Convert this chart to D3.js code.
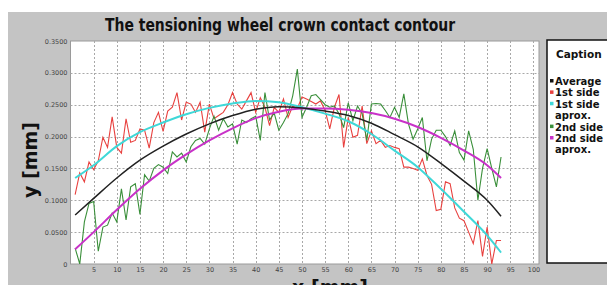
<!DOCTYPE html>
<html>
<head>
<meta charset="utf-8">
<script src="https://cdn.jsdelivr.net/npm/d3@7"></script>
<style>
  html, body { margin: 0; padding: 0; background: #fff; }
  svg { display: block; font-family: "DejaVu Sans", Verdana, sans-serif; }
</style>
</head>
<body>
<div id="chart"></div>
<script>
// measured sample positions, x [mm]
const xMm = d3.range(1, 94);

const firstSide = [
  0.109, 0.143, 0.129, 0.160, 0.148, 0.162, 0.199, 0.183, 0.231, 0.183,
  0.174, 0.228, 0.191, 0.194, 0.212, 0.210, 0.182, 0.222, 0.238, 0.208,
  0.240, 0.246, 0.269, 0.226, 0.254, 0.251, 0.238, 0.254, 0.207, 0.251,
  0.228, 0.233, 0.238, 0.250, 0.269, 0.251, 0.243, 0.256, 0.269, 0.238,
  0.261, 0.246, 0.217, 0.246, 0.238, 0.259, 0.230, 0.248, 0.244, 0.262,
  0.259, 0.255, 0.251, 0.256, 0.241, 0.212, 0.246, 0.266, 0.183, 0.230,
  0.199, 0.202, 0.248, 0.189, 0.209, 0.189, 0.194, 0.183, 0.186, 0.183,
  0.181, 0.152, 0.152, 0.150, 0.147, 0.165, 0.139, 0.125, 0.084, 0.086,
  0.129, 0.126, 0.088, 0.072, 0.068, 0.050, 0.032, 0.068, 0.012, 0.058,
  0.000, 0.037, 0.037
];

const secondSide = [
  0.025, 0.000, 0.066, 0.095, 0.098, 0.020, 0.058, 0.061, 0.080, 0.066,
  0.118, 0.069, 0.121, 0.126, 0.078, 0.140, 0.130, 0.150, 0.156, 0.152,
  0.142, 0.176, 0.168, 0.174, 0.160, 0.184, 0.194, 0.197, 0.188, 0.212,
  0.232, 0.210, 0.228, 0.215, 0.220, 0.188, 0.226, 0.222, 0.228, 0.232,
  0.194, 0.269, 0.226, 0.237, 0.210, 0.222, 0.236, 0.264, 0.306, 0.230,
  0.246, 0.264, 0.266, 0.258, 0.250, 0.246, 0.248, 0.236, 0.214, 0.253,
  0.225, 0.248, 0.236, 0.194, 0.251, 0.252, 0.251, 0.241, 0.230, 0.246,
  0.230, 0.267, 0.220, 0.196, 0.212, 0.230, 0.162, 0.196, 0.210, 0.210,
  0.200, 0.186, 0.209, 0.175, 0.163, 0.209, 0.180, 0.100, 0.150, 0.181,
  0.150, 0.121, 0.168
];

// fitted curves, read every 5 mm
const fitX = [1, 5, 10, 15, 20, 25, 30, 35, 40, 45, 50, 55, 60, 65, 70, 75, 80, 85, 90, 93];
const firstApprox = [0.135, 0.155, 0.185, 0.207, 0.222, 0.235, 0.245, 0.252, 0.256, 0.254,
                     0.246, 0.236, 0.224, 0.204, 0.178, 0.152, 0.118, 0.082, 0.045, 0.018];
const secondApprox = [0.023, 0.050, 0.085, 0.118, 0.147, 0.172, 0.194, 0.213, 0.229, 0.239,
                      0.244, 0.244, 0.242, 0.237, 0.228, 0.215, 0.198, 0.178, 0.155, 0.135];
const average = [0.077, 0.103, 0.135, 0.163, 0.185, 0.204, 0.220, 0.233, 0.243, 0.247,
                 0.245, 0.240, 0.233, 0.221, 0.203, 0.184, 0.158, 0.130, 0.100, 0.075];

const xTicks = d3.range(5, 101, 5);
const yTicks = [0, 0.05, 0.10, 0.15, 0.20, 0.25, 0.30, 0.35];

const legendItems = [
  { lines: ['Average'], color: '#111111' },
  { lines: ['1st side'], color: '#e8413f' },
  { lines: ['1st side', 'aprox.'], color: '#3fd8d8' },
  { lines: ['2nd side'], color: '#3a8f3a' },
  { lines: ['2nd side', 'aprox.'], color: '#c832c8' }
];

const width = 607, height = 285;
const plot = { left: 70.5, right: 539, top: 41, bottom: 264 };

const svg = d3.select('#chart').append('svg')
  .attr('width', width)
  .attr('height', height);

// grey panel
svg.append('rect')
  .attr('x', 8).attr('y', 12)
  .attr('width', width - 8).attr('height', height - 12)
  .attr('fill', '#c4c4c4');

const x = d3.scaleLinear().domain([0, 101.2]).range([plot.left, plot.right]);
const y = d3.scaleLinear().domain([0, 0.35]).range([plot.bottom, plot.top]);

// plot area
svg.append('rect')
  .attr('x', plot.left).attr('y', plot.top)
  .attr('width', plot.right - plot.left).attr('height', plot.bottom - plot.top)
  .attr('fill', '#fff')
  .attr('stroke', '#9a9a9a')
  .attr('stroke-width', 1);

// grid
const grid = svg.append('g')
  .attr('stroke', '#a8a8a8')
  .attr('stroke-width', 1)
  .attr('stroke-dasharray', '2,2');

grid.selectAll('line.v')
  .data(xTicks)
  .join('line')
  .attr('class', 'v')
  .attr('x1', d => Math.round(x(d)) + 0.5).attr('x2', d => Math.round(x(d)) + 0.5)
  .attr('y1', plot.top).attr('y2', plot.bottom);

grid.selectAll('line.h')
  .data(yTicks.filter(d => d > 0 && d < 0.35))
  .join('line')
  .attr('class', 'h')
  .attr('x1', plot.left).attr('x2', plot.right)
  .attr('y1', d => Math.round(y(d)) + 0.5).attr('y2', d => Math.round(y(d)) + 0.5);

// axes (labels only, as in the source chart)
const xAxis = svg.append('g')
  .attr('transform', `translate(0,${plot.bottom + 2})`)
  .call(d3.axisBottom(x).tickValues(xTicks).tickSize(0).tickPadding(1));
const yAxis = svg.append('g')
  .attr('transform', `translate(${plot.left - 3},0)`)
  .call(d3.axisLeft(y).tickValues(yTicks).tickSize(0).tickPadding(0)
    .tickFormat(d => d === 0 ? '0' : d3.format('.4f')(d)));

[xAxis, yAxis].forEach(a => {
  a.select('.domain').remove();
  a.selectAll('text')
    .attr('font-family', '"DejaVu Sans", Verdana, sans-serif')
    .attr('font-size', 6.5)
    .attr('fill', '#444');
});

// series
const rawLine = d3.line()
  .x((d, i) => x(xMm[i]))
  .y(d => y(d));

const fitLine = d3.line()
  .x((d, i) => x(fitX[i]))
  .y(d => y(d))
  .curve(d3.curveMonotoneX);

svg.append('clipPath').attr('id', 'clip')
  .append('rect')
  .attr('x', plot.left).attr('y', plot.top - 2)
  .attr('width', plot.right - plot.left).attr('height', plot.bottom - plot.top + 2);

const series = svg.append('g').attr('clip-path', 'url(#clip)');

series.append('path')
  .datum(firstSide)
  .attr('d', rawLine)
  .attr('fill', 'none')
  .attr('stroke', '#e8413f')
  .attr('stroke-width', 1.1);

series.append('path')
  .datum(secondSide)
  .attr('d', rawLine)
  .attr('fill', 'none')
  .attr('stroke', '#3a8f3a')
  .attr('stroke-width', 1.1);

series.append('path')
  .datum(firstApprox)
  .attr('d', fitLine)
  .attr('fill', 'none')
  .attr('stroke', '#3fd8d8')
  .attr('stroke-width', 2);

series.append('path')
  .datum(secondApprox)
  .attr('d', fitLine)
  .attr('fill', 'none')
  .attr('stroke', '#c832c8')
  .attr('stroke-width', 2);

series.append('path')
  .datum(average)
  .attr('d', fitLine)
  .attr('fill', 'none')
  .attr('stroke', '#222')
  .attr('stroke-width', 1.5);

// title and axis names
svg.append('text')
  .attr('x', 280).attr('y', 31)
  .attr('text-anchor', 'middle')
  .attr('font-size', 17)
  .attr('font-weight', 'bold')
  .attr('fill', '#111')
  .attr('textLength', 350)
  .attr('lengthAdjust', 'spacingAndGlyphs')
  .text('The tensioning wheel crown contact contour');

svg.append('text')
  .attr('transform', 'translate(37,160) rotate(-90)')
  .attr('text-anchor', 'middle')
  .attr('font-size', 19)
  .attr('font-weight', 'bold')
  .attr('fill', '#111')
  .text('y [mm]');

svg.append('text')
  .attr('x', 330).attr('y', 294)
  .attr('text-anchor', 'middle')
  .attr('font-size', 19)
  .attr('font-weight', 'bold')
  .attr('fill', '#111')
  .text('x [mm]');

// legend
const legend = svg.append('g');
legend.append('rect')
  .attr('x', 547).attr('y', 40)
  .attr('width', 80).attr('height', 223)
  .attr('fill', '#fff')
  .attr('stroke', '#111')
  .attr('stroke-width', 1.5);

legend.append('text')
  .attr('x', 556).attr('y', 58)
  .attr('font-size', 10.5)
  .attr('font-weight', 'bold')
  .attr('fill', '#111')
  .text('Caption');

let row = 0;
const rowH = 11.4;
legendItems.forEach(item => {
  const yy = 85 + row * rowH;
  legend.append('rect')
    .attr('x', 550).attr('y', yy - 6)
    .attr('width', 3.5).attr('height', 3.5)
    .attr('fill', item.color);
  item.lines.forEach((t, k) => {
    legend.append('text')
      .attr('x', 555).attr('y', yy + k * rowH)
      .attr('font-size', 10)
      .attr('font-weight', 'bold')
      .attr('fill', '#111')
      .text(t);
  });
  row += item.lines.length;
});
</script>
</body>
</html>
